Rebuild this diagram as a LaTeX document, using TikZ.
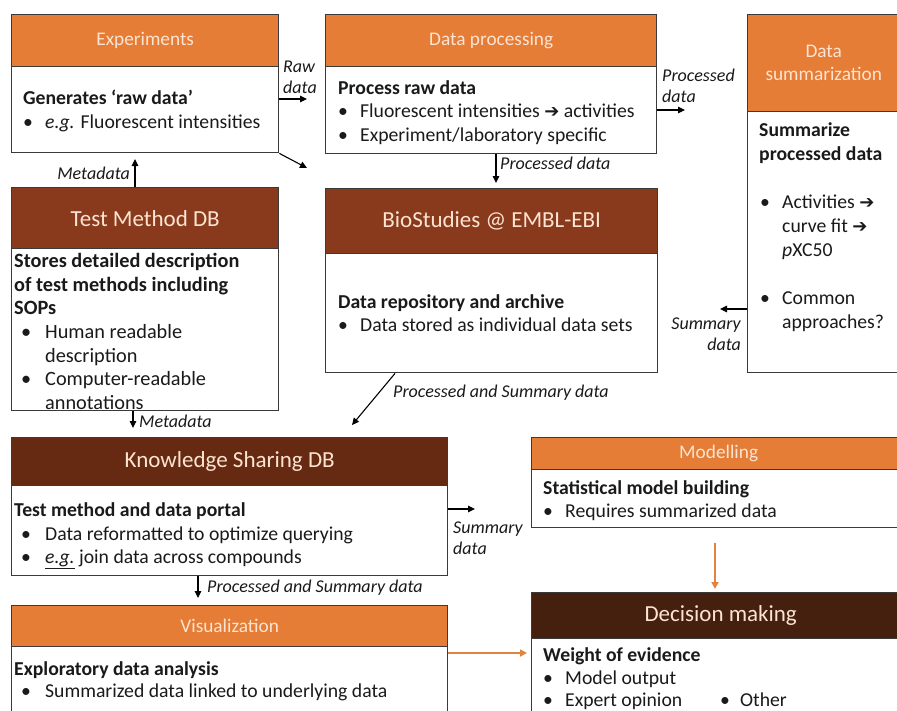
\documentclass[tikz,border=0pt]{standalone}
\usepackage{fontspec}
\setmainfont{Carlito}
\newfontfamily\dejavu{DejaVu Sans}
\usetikzlibrary{arrows.meta}
\definecolor{hdrorange}{HTML}{E57D36}
\definecolor{hdrred}{HTML}{8A3A1C}
\definecolor{hdrbrown}{HTML}{652A11}
\definecolor{hdrdark}{HTML}{45200F}
\definecolor{hdrtxt}{HTML}{FCE3D2}
\definecolor{bordercol}{HTML}{3A3A3A}
\definecolor{oarrow}{HTML}{E2833F}
\definecolor{ink}{HTML}{1A1A1A}
\newcommand\bodyfont{\fontsize{19.7}{24}\selectfont}
\newcommand\tmfont{\fontsize{20.3}{24}\selectfont}
\newcommand\lblfont{\fontsize{18}{21}\selectfont\itshape}
\newcommand\stitle{\fontsize{19.3}{23}\selectfont}
\newcommand\btitle{\fontsize{23}{27}\selectfont}
\newcommand\bul[1][22pt]{\makebox[#1][l]{•}}
\newcommand\rarr{{\dejavu\fontsize{18}{18}\selectfont ➔}}
\tikzset{
  hdr/.style={draw=bordercol, line width=1.4pt, fill=#1, anchor=north west, inner sep=0pt, text=hdrtxt},
  bodybox/.style={draw=bordercol, line width=1.4pt, fill=white, anchor=north west, inner sep=0pt},
  txt/.style={anchor=base west, inner sep=0pt, font=\bodyfont, text=ink},
  tmtxt/.style={txt, font=\tmfont},
  lbl/.style={font=\lblfont, inner sep=0pt, text=ink},
  arr/.style={-{Triangle[length=7pt,width=6.5pt]}, line width=1.1pt, draw=black},
  oarr/.style={line width=1.7pt, draw=oarrow, -{Triangle[length=7pt,width=7pt,fill=oarrow]}},
}
\begin{document}
\begin{tikzpicture}[x=1pt,y=-1pt]
\useasboundingbox (0,0) rectangle (897,710);
\clip (0,0) rectangle (897,710);
\fill[white] (0,0) rectangle (897,710);

% Experiments
\node[bodybox, minimum width=267, minimum height=86] (expb) at (11,66) {};
\node[hdr=hdrorange, minimum width=267, minimum height=52, font=\stitle] (exph) at (11,14) {Experiments};
\node[txt] (exp1) at (23,104) {\textbf{Generates ‘raw data’}};
\node[txt] (exp2) at (23,128) {\bul\textit{e.g.} Fluorescent intensities};

% Data processing
\node[bodybox, minimum width=331, minimum height=87] (dpb) at (325,66) {};
\node[hdr=hdrorange, minimum width=331, minimum height=52, font=\stitle] (dph) at (325,14) {Data processing};
\node[txt] (dp1) at (338,94) {\textbf{Process raw data}};
\node[txt] (dp2) at (338,117) {\bul Fluorescent intensities \rarr\ activities};
\node[txt] (dp3) at (338,141) {\bul Experiment/laboratory specific};

% Data summarization
\node[bodybox, minimum width=152, minimum height=261] (sumb) at (747,111) {};
\node[hdr=hdrorange, minimum width=152, minimum height=97, align=center, font=\stitle] (sumh) at (747,14) {Data\\summarization};
\node[txt] (sum1) at (759,136) {\textbf{Summarize}};
\node[txt] (sum2) at (759,160) {\textbf{processed data}};
\node[txt] (sum3) at (760,208) {\bul Activities \rarr};
\node[txt] (sum4) at (782,232) {curve fit \rarr};
\node[txt] (sum5) at (782,256) {\textit{p}XC50};
\node[txt] (sum6) at (760,304) {\bul Common};
\node[txt] (sum7) at (782,328) {approaches?};

% Test Method DB
\node[bodybox, minimum width=267, minimum height=162] (tmb) at (11,248) {};
\node[hdr=hdrred, minimum width=267, minimum height=61, font=\btitle] (tmh) at (11,187) {Test Method DB};
\node[tmtxt] (tm1) at (14,267) {\textbf{Stores detailed description}};
\node[tmtxt] (tm2) at (14,291) {\textbf{of test methods including}};
\node[tmtxt] (tm3) at (14,314) {\textbf{SOPs}};
\node[tmtxt] (tm4) at (21,338) {\bul[24pt]Human readable};
\node[tmtxt] (tm5) at (45,362) {description};
\node[tmtxt] (tm6) at (21,385) {\bul[24pt]Computer-readable};
\node[tmtxt] (tm7) at (45,409) {annotations};

% BioStudies
\node[bodybox, minimum width=332, minimum height=119] (biob) at (325,253) {};
\node[hdr=hdrred, minimum width=332, minimum height=65, font=\btitle] (bioh) at (325,188) {BioStudies @ EMBL-EBI};
\node[txt] (bio1) at (338,308) {\textbf{Data repository and archive}};
\node[txt] (bio2) at (338,331) {\bul Data stored as individual data sets};

% Knowledge Sharing DB
\node[bodybox, minimum width=436, minimum height=90] (knowb) at (11,485) {};
\node[hdr=hdrbrown, minimum width=436, minimum height=48, font=\btitle] (knowh) at (11,437) {Knowledge Sharing DB};
\node[txt] (know1) at (14,516) {\textbf{Test method and data portal}};
\node[txt] (know2) at (21,540) {\bul[24pt]Data reformatted to optimize querying};
\node[txt] (know3) at (21,563) {\bul[24pt]\underline{\textit{e.g.}} join data across compounds};

% Modelling
\node[bodybox, minimum width=374, minimum height=58] (modb) at (531,469) {};
\node[hdr=hdrorange, minimum width=374, minimum height=32, font=\stitle] (modh) at (531,437) {Modelling};
\node[txt] (mod1) at (543,494) {\textbf{Statistical model building}};
\node[txt] (mod2) at (543,517) {\bul Requires summarized data};

% Visualization
\node[bodybox, minimum width=436, minimum height=80] (visb) at (11,646) {};
\node[hdr=hdrorange, minimum width=436, minimum height=41, font=\stitle] (vish) at (11,605) {Visualization};
\node[txt] (vis1) at (14,675) {\textbf{Exploratory data analysis}};
\node[txt] (vis2) at (21,697) {\bul[24pt]Summarized data linked to underlying data};

% Decision making
\node[bodybox, minimum width=378, minimum height=82] (decb) at (531,638) {};
\node[hdr=hdrdark, minimum width=378, minimum height=46, font=\btitle] (dech) at (531,592) {Decision making};
\node[txt] (dec1) at (543,661) {\textbf{Weight of evidence}};
\node[txt] (dec2) at (543,684) {\bul Model output};
\node[txt] (dec3) at (543,706) {\bul Expert opinion};
\node[txt] (dec4) at (720,706) {\bul[20pt]Other};

% Connectors
\coordinate (rawend) at (307,99);
\draw[arr] (rawend -| expb.east) -- (rawend);
\node[lbl, anchor=west, align=left] (rawlbl) at (283,77.5) {Raw\\data};

\coordinate (diagend) at (307,168);
\draw[arr] (expb.south east) -- (diagend);

\coordinate (mdup) at (135,159);
\draw[arr] (mdup |- tmh.north) -- (mdup);
\node[lbl, anchor=east] (mdulbl) at (130,173) {Metadata};

\coordinate (mddown) at (133,428);
\draw[arr] (mddown |- tmb.south) -- (mddown);
\node[lbl, anchor=west] (mddlbl) at (139,421) {Metadata};

\coordinate (pddown) at (496,183);
\draw[arr] (pddown |- dpb.south) -- (pddown);
\node[lbl, anchor=west] (pddlbl) at (500,163) {Processed data};

\coordinate (pdright) at (685,110);
\draw[arr] (pdright -| dpb.east) -- (pdright);
\node[lbl, anchor=west, align=left] (pdrlbl) at (662,86) {Processed\\data};

\coordinate (sdleft) at (720,309);
\draw[arr] (sdleft -| sumb.west) -- (sdleft);
\node[lbl, anchor=east, align=right] (sdllbl) at (741,334) {Summary\\data};

\coordinate (psend) at (352,425);
\draw[arr] ([xshift=70pt]biob.south west) -- (psend);
\node[lbl, anchor=west] (psdlbl) at (393,393) {Processed and Summary data};

\coordinate (sdright) at (475,509);
\draw[arr] (sdright -| knowb.east) -- (sdright);
\node[lbl, anchor=west, align=left] (sdrlbl) at (453,538) {Summary\\data};

\coordinate (psdown) at (198,598);
\draw[arr] (psdown |- knowb.south) -- (psdown);
\node[lbl, anchor=west] (psdnlbl) at (207,588) {Processed and Summary data};

\coordinate (odown) at (715,543);
\draw[oarr, shorten >=3pt] (odown) -- (odown |- dech.north);

\coordinate (oright) at (527,653);
\draw[oarr] (oright -| visb.east) -- (oright);
\end{tikzpicture}
\end{document}
